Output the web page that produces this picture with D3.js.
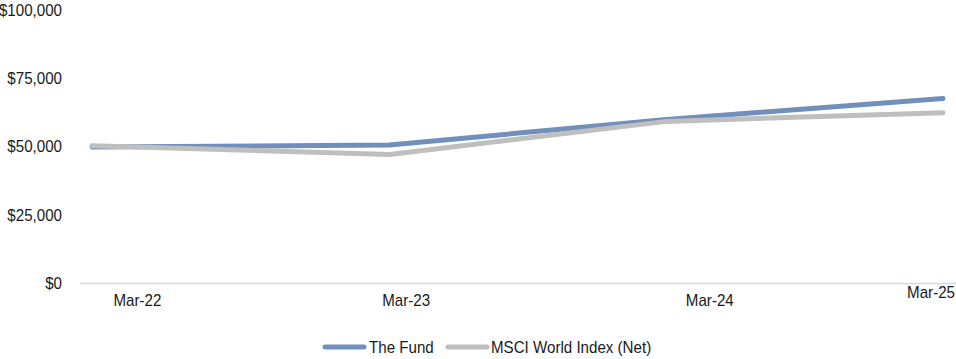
<!DOCTYPE html>
<html><head><meta charset="utf-8">
<script src="https://cdn.jsdelivr.net/npm/d3@7/dist/d3.min.js"></script>
<style>body{margin:0;background:#fff}svg{display:block;font-family:"Liberation Sans",Arial,sans-serif}</style>
</head><body><svg id="c" width="956" height="359"></svg>
<script>
const dates = ["2022-03-03", "2023-03-31", "2024-03-31", "2025-03-31"];
const fund = [49800, 50550, 59900, 67600];
const msci = [50300, 47100, 59200, 62400];
const seriesNames = ["The Fund", "MSCI World Index (Net)"];
const colors = ["#7090bb", "#bfbfbf"];
const yTicks = [0, 25000, 50000, 75000, 100000];
const tickLabels = ["Mar-22", "Mar-23", "Mar-24", "Mar-25"];
const tickDates = ["2022-05-02", "2023-04-22", "2024-05-27", "2025-03-20"];

const svg = d3.select("#c");
const parse = d3.utcParse("%Y-%m-%d");
const x = d3.scaleUtc().domain([parse(dates[0]), parse(dates[dates.length-1])]).range([92, 943]);
const y = d3.scaleLinear().domain([0, 100000]).range([283, 10]);
const FS = 17, SX = 0.89, W = 956;

function label(g, tx, ty, txt, anchor) {
  const t = g.append("text").attr("transform", `translate(${tx},${ty}) scale(${SX},1)`)
    .attr("dy", "0.35em").attr("text-anchor", anchor).attr("font-size", FS)
    .attr("fill", "#1a1a1a").text(txt);
  return t;
}

// y labels
const gy = svg.append("g");
yTicks.forEach(d => label(gy, 62, y(d), "$" + d3.format(",")(d), "end"));

// baseline
svg.append("line").attr("x1", 80).attr("x2", W).attr("y1", y(0) + 0.5).attr("y2", y(0) + 0.5)
  .attr("stroke", "#d9d9d9").attr("stroke-width", 1.5);

// x labels
const gx = svg.append("g");
tickLabels.forEach((d, i) => {
  const last = i === tickLabels.length - 1;
  let px = x(parse(tickDates[i]));
  const t = label(gx, px, last ? 292 : 300, d, "middle");
  const w = t.node().getComputedTextLength() * SX;
  if (px + w / 2 > W - 1) {
    px = W - 1 - w / 2;
    t.attr("transform", `translate(${px},${last ? 292 : 300}) scale(${SX},1)`);
  }
});

const line = d3.line().x((d, i) => x(parse(dates[i]))).y(d => y(d));
[fund, msci].forEach((s, k) => {
  svg.append("path").datum(s).attr("d", line).attr("fill", "none")
    .attr("stroke", colors[k]).attr("stroke-width", 5)
    .attr("stroke-linecap", "round").attr("stroke-linejoin", "round");
});

// legend
const leg = [{x1: 325, x2: 364, tx: 369}, {x1: 448, x2: 487, tx: 491}];
const ly = 347;
const gl = svg.append("g");
seriesNames.forEach((n, k) => {
  gl.append("line").attr("x1", leg[k].x1).attr("x2", leg[k].x2).attr("y1", ly).attr("y2", ly)
    .attr("stroke", colors[k]).attr("stroke-width", 5).attr("stroke-linecap", "round");
  label(gl, leg[k].tx, ly, n, "start");
});
</script></body></html>
